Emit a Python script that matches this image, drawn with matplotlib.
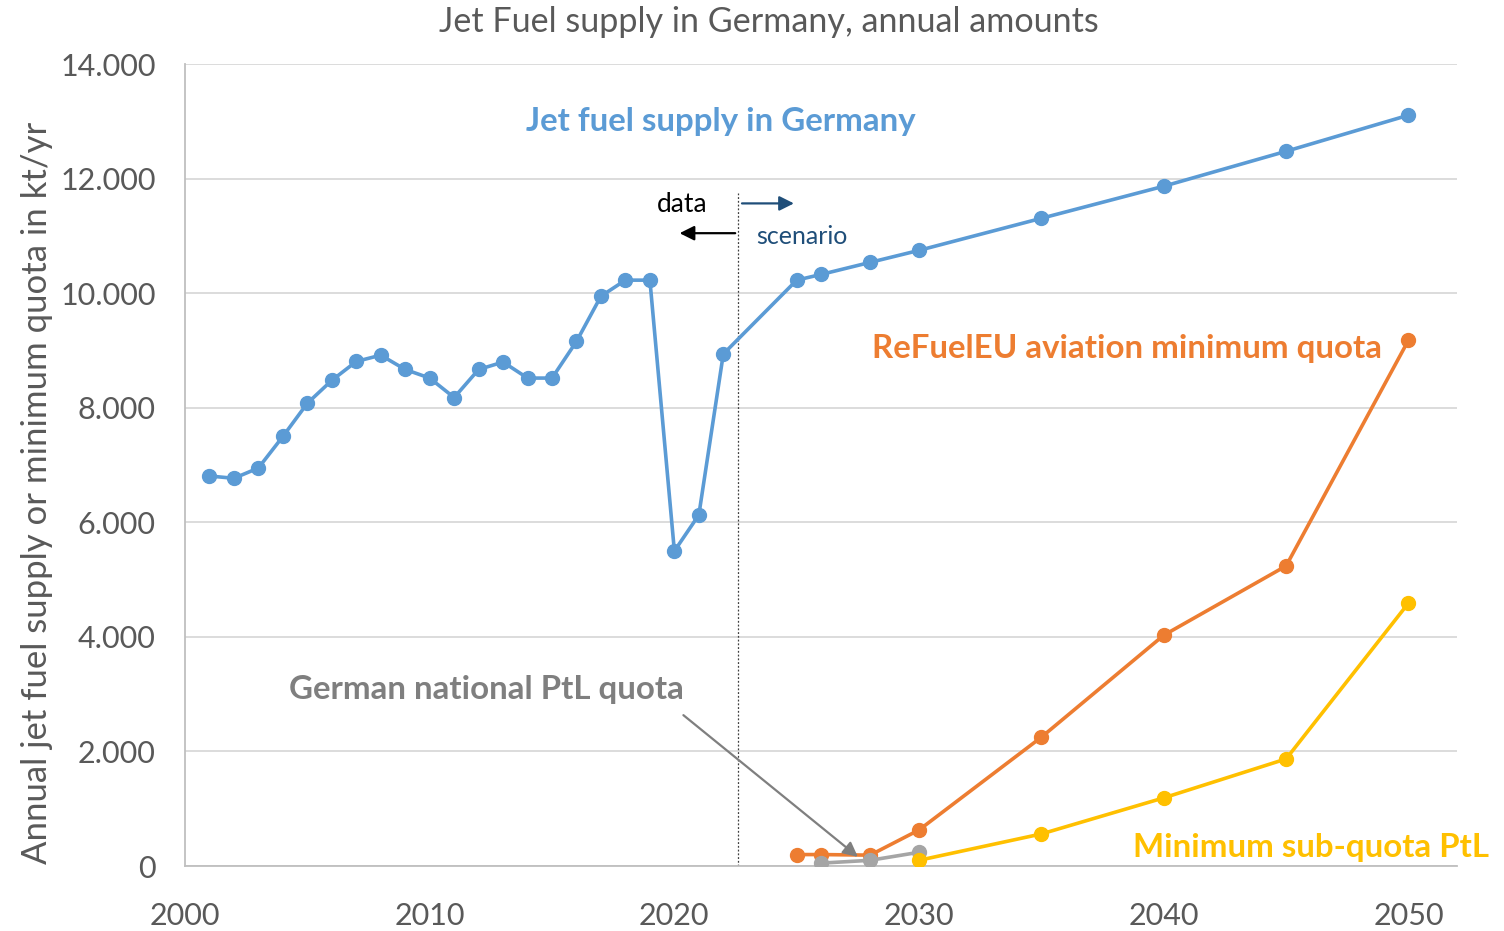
import matplotlib.pyplot as plt
from matplotlib.ticker import FuncFormatter

# Jet fuel supply, kt/yr
supply_years = [2001, 2002, 2003, 2004, 2005, 2006, 2007, 2008, 2009, 2010,
                2011, 2012, 2013, 2014, 2015, 2016, 2017, 2018, 2019, 2020,
                2021, 2022, 2025, 2026, 2028, 2030, 2035, 2040, 2045, 2050]
supply = [6810, 6770, 6950, 7500, 8080, 8480, 8810, 8920, 8670, 8520,
          8180, 8670, 8800, 8520, 8520, 9160, 9950, 10230, 10230, 5500,
          6130, 8940, 10230, 10330, 10540, 10750, 11310, 11870, 12480, 13110]

# ReFuelEU aviation minimum quota
refuel_years = [2025, 2026, 2028, 2030, 2035, 2040, 2045, 2050]
refuel = [200, 200, 190, 630, 2250, 4030, 5240, 9180]

# German national PtL quota
german_years = [2026, 2028, 2030]
german = [50, 100, 240]

# Minimum sub-quota PtL
ptl_years = [2030, 2035, 2040, 2045, 2050]
ptl = [100, 560, 1190, 1870, 4590]

blue = '#5B9BD5'
orange = '#ED7D31'
grey = '#A5A5A5'
yellow = '#FFC000'

plt.rcParams['font.family'] = ['Lato', 'DejaVu Sans']

fig = plt.figure(figsize=(15.04, 9.31), dpi=100)
ax = fig.add_axes([0.123, 0.0698, 0.846, 0.8612])

ax.plot(supply_years, supply, color=blue, lw=2.6, marker='o', ms=10, zorder=3)
ax.plot(refuel_years, refuel, color=orange, lw=2.6, marker='o', ms=10, zorder=3)
ax.plot(german_years, german, color=grey, lw=2.6, marker='o', ms=10, zorder=4)
ax.plot(ptl_years, ptl, color=yellow, lw=2.6, marker='o', ms=10, zorder=5)

ax.set_xlim(2000, 2052)
ax.set_ylim(0, 14000)
ax.set_xticks([2000, 2010, 2020, 2030, 2040, 2050])
ax.set_yticks(range(0, 14001, 2000))
ax.yaxis.set_major_formatter(FuncFormatter(lambda v, p: f'{int(v):,}'.replace(',', '.')))
ax.tick_params(length=0, labelsize=22, labelcolor='#595959')
ax.tick_params(axis='y', pad=21)
ax.tick_params(axis='x', pad=26)
ax.grid(axis='y', color='#D9D9D9', lw=1.3)
ax.set_axisbelow(True)
for s in ['top', 'right']:
    ax.spines[s].set_visible(False)
for s in ['left', 'bottom']:
    ax.spines[s].set_color('#BFBFBF')
    ax.spines[s].set_linewidth(1.3)

ax.set_ylabel('Annual jet fuel supply or minimum quota in kt/yr', fontsize=25, color='#595959')
ax.yaxis.set_label_coords(-0.104, 0.466)
fig.text(0.511, 0.976, 'Jet Fuel supply in Germany, annual amounts', fontsize=24.6,
         color='#595959', ha='center', va='center')

# data / scenario split
ax.plot([2022.6, 2022.6], [0, 11760], color='#404040', lw=0.9, ls=(0, (1.5, 1.5)), zorder=2)
ax.annotate('', xy=(2020.1, 11050), xytext=(2022.6, 11050),
            arrowprops=dict(arrowstyle='-|>', color='black', lw=1.6, mutation_scale=22))
ax.annotate('', xy=(2025.0, 11570), xytext=(2022.65, 11570),
            arrowprops=dict(arrowstyle='-|>', color='#1F4E79', lw=1.6, mutation_scale=22))
ax.text(2020.3, 11550, 'data', fontsize=19, ha='center', va='center', color='black')
ax.text(2025.2, 10990, 'scenario', fontsize=18, ha='center', va='center', color='#1F4E79')

# series labels
ax.text(2021.9, 13000, 'Jet fuel supply in Germany', fontsize=23.8, fontweight='bold',
        color=blue, ha='center', va='center')
ax.text(2038.5, 9040, 'ReFuelEU aviation minimum quota', fontsize=23.8, fontweight='bold',
        color=orange, ha='center', va='center')
ax.text(2046.0, 330, 'Minimum sub-quota PtL', fontsize=23.8, fontweight='bold',
        color=yellow, ha='center', va='center')
ax.annotate('German national PtL quota', xy=(2027.5, 160), xytext=(2012.3, 3090),
            fontsize=23.8, fontweight='bold', color='#7F7F7F', ha='center', va='center',
            arrowprops=dict(arrowstyle='-|>', color='#7F7F7F', lw=1.6, mutation_scale=22,
                            shrinkA=0, shrinkB=0, relpos=(1.0, -0.4)))

fig.savefig('out.png', dpi=100)
